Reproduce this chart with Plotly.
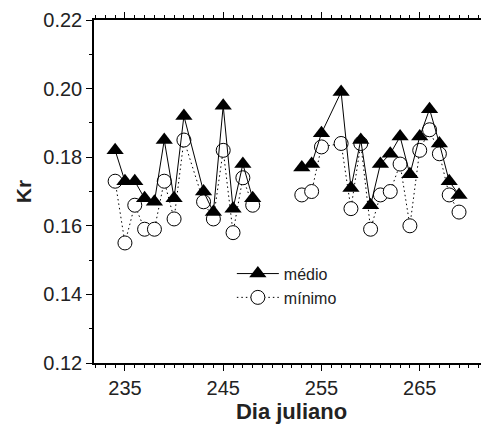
import plotly.graph_objects as go

# Dia juliano and Kr values (None = no data, breaks the line)
dias = [234, 235, 236, 237, 238, 239, 240, 241, 243, 244, 245, 246, 247, 248,
        None,
        253, 254, 255, 257, 258, 259, 260, 261, 262, 263, 264, 265, 266, 267, 268, 269]
kr_medio = [0.182, 0.173, 0.173, 0.168, 0.167, 0.185, 0.168, 0.192, 0.170, 0.164,
            0.195, 0.165, 0.178, 0.168,
            None,
            0.177, 0.178, 0.187, 0.199, 0.171, 0.185, 0.166, 0.178, 0.181, 0.186,
            0.175, 0.186, 0.194, 0.184, 0.173, 0.169]
kr_minimo = [0.173, 0.155, 0.166, 0.159, 0.159, 0.173, 0.162, 0.185, 0.167, 0.162,
             0.182, 0.158, 0.174, 0.166,
             None,
             0.169, 0.170, 0.183, 0.184, 0.165, 0.184, 0.159, 0.169, 0.170, 0.178,
             0.160, 0.182, 0.188, 0.181, 0.169, 0.164]

x_ticks = [235, 245, 255, 265]
y_ticks = [0.12, 0.14, 0.16, 0.18, 0.20, 0.22]

FONT = "Liberation Sans, Arial, sans-serif"

fig = go.Figure()

fig.add_trace(go.Scatter(
    x=dias, y=kr_minimo, name="mínimo", mode="lines+markers",
    line=dict(color="black", width=1, dash="1.5px,3px"),
    marker=dict(symbol="circle", size=14, color="white",
                line=dict(color="black", width=1)),
))
fig.add_trace(go.Scatter(
    x=dias, y=kr_medio, name="médio", mode="lines+markers",
    line=dict(color="black", width=1),
    marker=dict(symbol="triangle-up", size=15, color="black"),
))

axis_common = dict(
    showline=True, linecolor="black", linewidth=1.5,
    showgrid=False, zeroline=False, automargin=False,
    ticks="outside", ticklen=6, tickwidth=1, tickcolor="black",
    tickfont=dict(family=FONT, size=20, color="#222"),
)

fig.update_xaxes(
    **axis_common,
    range=[231.85, 272.05], tickvals=x_ticks, mirror="ticks",
    minor=dict(dtick=1, ticks="outside", ticklen=3, tickcolor="black"),
    title=dict(text="<b>Dia juliano</b>", font=dict(family=FONT, size=22, color="#222"),
               standoff=4),
)
fig.update_yaxes(
    **axis_common,
    range=[0.12, 0.22], tickvals=y_ticks, tickformat=".2f",
    minor=dict(dtick=0.01, ticks="outside", ticklen=3, tickcolor="black"),
    title=dict(text="<b>Kr</b>", font=dict(family=FONT, size=21, color="#222"),
               standoff=6),
)

# the page body has an 8px margin, so the figure is 8px smaller than the window
fig.update_layout(
    width=481, height=418,
    margin=dict(l=86, r=0, t=12, b=63),
    paper_bgcolor="white", plot_bgcolor="white",
    showlegend=True,
    legend=dict(x=0.349, y=0.31, xanchor="left", yanchor="top",
                traceorder="reversed", bgcolor="rgba(0,0,0,0)",
                font=dict(family=FONT, size=16, color="#222"),
                tracegroupgap=0, itemwidth=42),
)

fig.write_html("out.html")
